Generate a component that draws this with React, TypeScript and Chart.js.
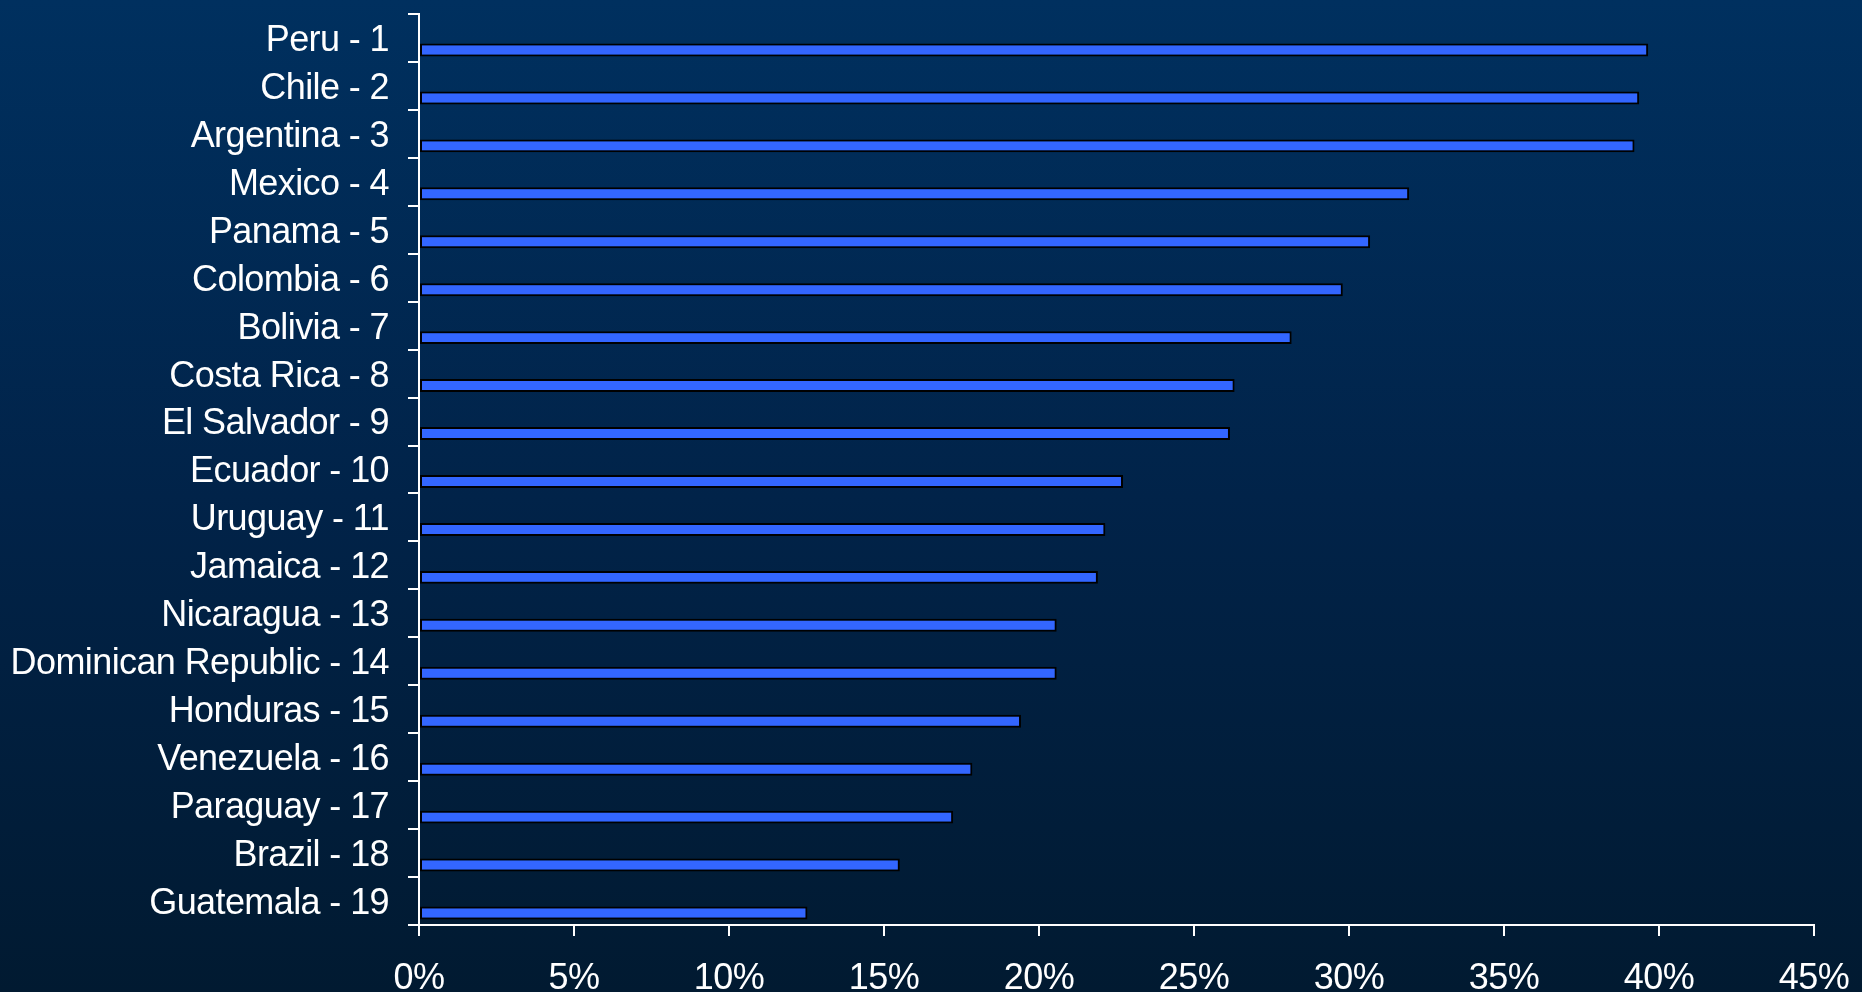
import React, { useEffect, useRef } from "react";
import { Chart, registerables } from "chart.js";

Chart.register(...registerables);

const categories = [
  "Peru - 1",
  "Chile - 2",
  "Argentina - 3",
  "Mexico - 4",
  "Panama - 5",
  "Colombia - 6",
  "Bolivia - 7",
  "Costa Rica - 8",
  "El Salvador - 9",
  "Ecuador - 10",
  "Uruguay - 11",
  "Jamaica - 12",
  "Nicaragua - 13",
  "Dominican Republic - 14",
  "Honduras - 15",
  "Venezuela - 16",
  "Paraguay - 17",
  "Brazil - 18",
  "Guatemala - 19",
];

const values = [
  39.65, 39.36, 39.21, 31.94, 30.68, 29.8, 28.15, 26.31, 26.16, 22.71, 22.14,
  21.9, 20.57, 20.57, 19.42, 17.85, 17.23, 15.51, 12.53,
];

const emptySeries = categories.map(() => null);

const xMin = 0;
const xMax = 45;
const xStep = 5;

const FONT = "'Liberation Sans', Arial, sans-serif";
const SPACING = "-0.6px";

const letterSpacingPlugin = {
  id: "letterSpacing",
  beforeLayout(chart: any) {
    (chart.ctx as any).letterSpacing = SPACING;
  },
  beforeDraw(chart: any) {
    (chart.ctx as any).letterSpacing = SPACING;
  },
};

export default function App() {
  const ref = useRef<HTMLCanvasElement | null>(null);

  useEffect(() => {
    document.body.style.margin = "0";
    const canvas = ref.current!;
    const chart = new Chart(canvas, {
      type: "bar",
      data: {
        labels: categories,
        datasets: [
          {
            label: "spacer",
            data: emptySeries as any,
            backgroundColor: "rgba(0,0,0,0)",
          },
          {
            label: "value",
            data: values,
            backgroundColor: "#3366FF",
            borderColor: "#000000",
            borderWidth: 2,
            borderSkipped: false,
          },
        ],
      },
      options: {
        indexAxis: "y",
        animation: false,
        responsive: false,
        maintainAspectRatio: false,
        devicePixelRatio: 1,
        layout: { padding: { top: 14, right: 48, left: 0, bottom: 0 } },
        plugins: {
          legend: { display: false },
          tooltip: { enabled: false },
        },
        datasets: {
          bar: { categoryPercentage: 1.0, barPercentage: 0.54 },
        },
        scales: {
          x: {
            type: "linear",
            min: xMin,
            max: xMax,
            ticks: {
              stepSize: xStep,
              color: "#ffffff",
              padding: 21,
              font: { family: FONT, size: 36 },
              callback: (v: any) => `${v}%`,
            },
            grid: {
              drawOnChartArea: false,
              drawTicks: true,
              tickLength: 11,
              color: "#ffffff",
              lineWidth: 2,
            },
            border: { display: true, color: "#ffffff", width: 2 },
            afterFit: (scale: any) => {
              scale.height = 67;
              scale.paddingLeft = 0;
              scale.paddingRight = 0;
            },
          },
          y: {
            type: "category",
            ticks: {
              color: "#ffffff",
              padding: 19,
              labelOffset: 3,
              font: { family: FONT, size: 36 },
              autoSkip: false,
            },
            grid: {
              offset: true,
              drawOnChartArea: false,
              drawTicks: true,
              tickLength: 11,
              color: "#ffffff",
              lineWidth: 2,
            },
            border: { display: true, color: "#ffffff", width: 2 },
            afterFit: (scale: any) => {
              scale.width = 419;
              scale.paddingTop = 0;
              scale.paddingBottom = 0;
            },
          },
        },
      },
      plugins: [letterSpacingPlugin],
    });
    return () => chart.destroy();
  }, []);

  return (
    <div
      style={{
        position: "fixed",
        left: 0,
        top: 0,
        width: 1862,
        height: 992,
        background:
          "linear-gradient(to bottom, #00305f 0%, #012349 50%, #011a31 100%)",
      }}
    >
      <canvas
        ref={ref}
        width={1862}
        height={992}
        style={{ display: "block", width: 1862, height: 992 }}
      />
    </div>
  );
}
